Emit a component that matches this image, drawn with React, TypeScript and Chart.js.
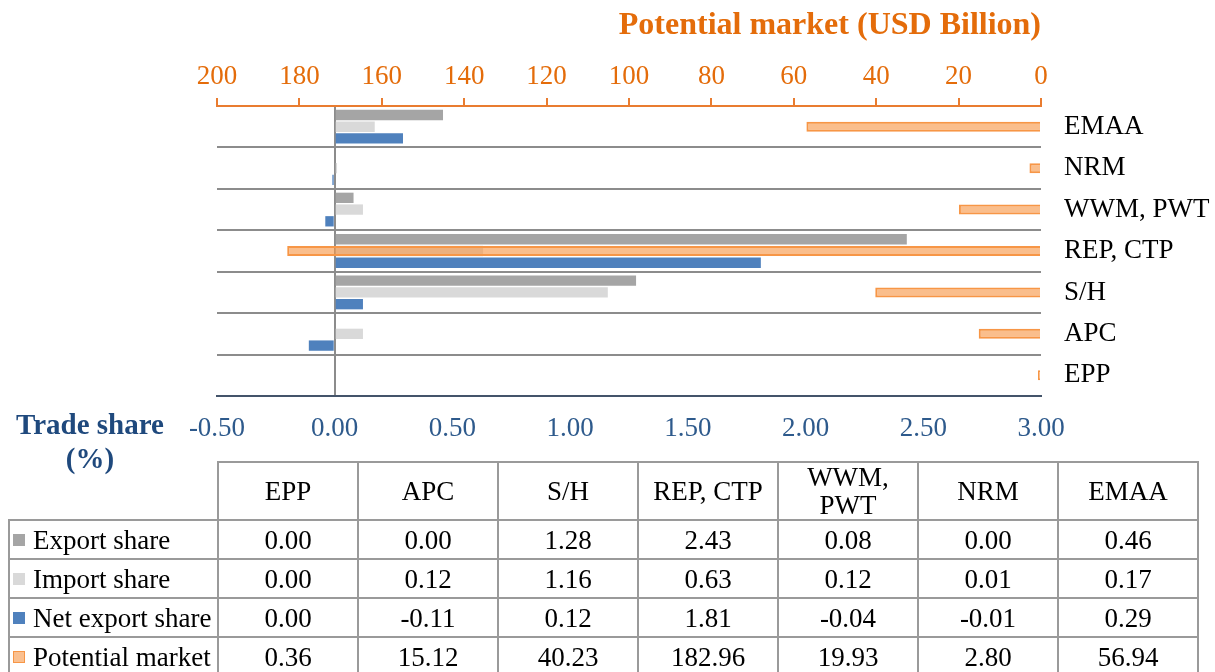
import React, { useEffect, useRef } from 'react';
import { Chart, registerables } from 'chart.js';

Chart.register(...registerables);

// ---- Data (table order: bottom to top in the chart) ----
const categories = ['EPP', 'APC', 'S/H', 'REP, CTP', 'WWM, PWT', 'NRM', 'EMAA'];
const tableHeaders = ['EPP', 'APC', 'S/H', 'REP, CTP', 'WWM,\nPWT', 'NRM', 'EMAA'];
const exportShare = [0.0, 0.0, 1.28, 2.43, 0.08, 0.0, 0.46];
const importShare = [0.0, 0.12, 1.16, 0.63, 0.12, 0.01, 0.17];
const netExportShare = [0.0, -0.11, 0.12, 1.81, -0.04, -0.01, 0.29];
const potentialMarket = [0.36, 15.12, 40.23, 182.96, 19.93, 2.8, 56.94];
const seriesNames = ['Export share', 'Import share', 'Net export share', 'Potential market'];
const topAxisTitle = 'Potential market (USD Billion)';

const FONT = '"Liberation Serif", "Times New Roman", serif';
const ORANGE_TEXT = '#E46C0A';
const ORANGE_LINE = '#E97C30';
const BLUE_TEXT = '#1F497D';

const swatches = [
  { bg: '#A5A5A5', border: '#A5A5A5' },
  { bg: '#D9D9D9', border: '#D9D9D9' },
  { bg: '#4F81BD', border: '#4F81BD' },
  { bg: '#FAC090', border: '#F79646' },
];

// Title for the reversed top axis, right-aligned to the chart area's right edge
const topTitlePlugin = {
  id: 'topTitle',
  afterDraw(chart: any) {
    const { ctx, chartArea } = chart;
    ctx.save();
    ctx.font = `bold 32px ${FONT}`;
    ctx.fillStyle = ORANGE_TEXT;
    ctx.textAlign = 'right';
    ctx.textBaseline = 'middle';
    ctx.fillText(topAxisTitle, chartArea.right, 26);
    ctx.restore();
  },
};

export default function App() {
  const ref = useRef<HTMLCanvasElement>(null);

  useEffect(() => {
    const chart = new Chart(ref.current as HTMLCanvasElement, {
      type: 'bar',
      data: {
        labels: categories,
        datasets: [
          {
            label: seriesNames[3],
            data: potentialMarket,
            xAxisID: 'x2',
            yAxisID: 'y',
            grouped: false,
            maxBarThickness: 10,
            minBarLength: 3,
            backgroundColor: 'rgba(247,150,70,0.62)',
            borderColor: '#F79646',
            borderWidth: 2,
            order: 0,
          } as any,
          {
            label: seriesNames[0],
            data: exportShare,
            xAxisID: 'x',
            yAxisID: 'y',
            backgroundColor: '#A5A5A5',
            order: 1,
          },
          {
            label: seriesNames[1],
            data: importShare,
            xAxisID: 'x',
            yAxisID: 'y',
            backgroundColor: '#D9D9D9',
            order: 1,
          },
          {
            label: seriesNames[2],
            data: netExportShare,
            xAxisID: 'x',
            yAxisID: 'y',
            backgroundColor: '#4F81BD',
            order: 1,
          },
        ],
      },
      options: {
        indexAxis: 'y',
        responsive: false,
        animation: false,
        layout: { padding: { left: 217, right: 0, top: 0, bottom: 0 } },
        plugins: {
          legend: { display: false },
          tooltip: { enabled: false },
        },
        datasets: {
          bar: { categoryPercentage: 0.85, barPercentage: 0.88 },
        },
        scales: {
          x: {
            type: 'linear',
            position: 'bottom',
            min: -0.5,
            max: 3,
            ticks: {
              stepSize: 0.5,
              color: '#2E5A8C',
              font: { family: FONT, size: 27 },
              padding: 17,
              callback: (v: any) => Number(v).toFixed(2),
            },
            grid: {
              drawTicks: false,
              lineWidth: 2,
              color: (ctx: any) =>
                ctx.tick && Math.abs(ctx.tick.value) < 1e-9 ? '#8C8C8C' : 'rgba(0,0,0,0)',
            },
            border: { display: true, color: '#44546A', width: 2 },
            afterFit: (s: any) => {
              s.height = 64;
            },
          },
          x2: {
            type: 'linear',
            axis: 'x',
            position: 'top',
            min: 0,
            max: 200,
            reverse: true,
            ticks: {
              stepSize: 20,
              color: ORANGE_TEXT,
              font: { family: FONT, size: 27 },
              padding: 5,
            },
            grid: {
              drawOnChartArea: false,
              drawTicks: true,
              tickLength: 8,
              color: ORANGE_LINE,
              lineWidth: 2,
            },
            border: { display: true, color: ORANGE_LINE, width: 2 },
            title: { display: false },
            afterFit: (s: any) => {
              s.height = 106;
            },
          },
          y: {
            type: 'category',
            position: 'right',
            reverse: true,
            grid: {
              color: '#8C8C8C',
              lineWidth: 2,
              drawTicks: false,
              offset: true,
            },
            border: { display: false },
            ticks: {
              color: '#000000',
              font: { family: FONT, size: 27 },
              padding: 23,
              crossAlign: 'near',
            },
            afterFit: (s: any) => {
              s.width = 174;
            },
          },
        },
      } as any,
      plugins: [topTitlePlugin],
    });
    return () => chart.destroy();
  }, []);

  const cellBorder = '2px solid #9A9A9A';
  const rows = [exportShare, importShare, netExportShare, potentialMarket];

  return (
    <div
      style={{
        position: 'absolute',
        left: 0,
        top: 0,
        width: 1215,
        height: 672,
        overflow: 'hidden',
        background: '#ffffff',
        fontFamily: FONT,
      }}
    >
      <canvas ref={ref} width={1215} height={460} style={{ position: 'absolute', left: 0, top: 0 }} />
      <div
        style={{
          position: 'absolute',
          left: 0,
          top: 407,
          width: 180,
          textAlign: 'center',
          color: BLUE_TEXT,
          fontWeight: 'bold',
          fontSize: 29,
          lineHeight: '34px',
        }}
      >
        Trade share
        <br />
        (%)
      </div>
      <table
        style={{
          position: 'absolute',
          left: 8,
          top: 461,
          borderCollapse: 'collapse',
          tableLayout: 'fixed',
          width: 1189,
          fontSize: 27,
          color: '#000',
        }}
      >
        <colgroup>
          <col style={{ width: 209 }} />
          {categories.map((c) => (
            <col key={c} style={{ width: 140 }} />
          ))}
        </colgroup>
        <tbody>
          <tr style={{ height: 58 }}>
            <td style={{ border: 'none', padding: 0 }} />
            {tableHeaders.map((h) => (
              <td
                key={h}
                style={{
                  border: cellBorder,
                  textAlign: 'center',
                  whiteSpace: 'pre-line',
                  lineHeight: '28px',
                  padding: 0,
                }}
              >
                {h}
              </td>
            ))}
          </tr>
          {rows.map((vals, ri) => (
            <tr key={ri} style={{ height: 39 }}>
              <td style={{ border: cellBorder, padding: '0 0 0 3px', whiteSpace: 'nowrap', lineHeight: '30px' }}>
                <span
                  style={{
                    display: 'inline-block',
                    width: ri === 3 ? 10 : 12,
                    height: ri === 3 ? 10 : 12,
                    background: swatches[ri].bg,
                    border: ri === 3 ? `1px solid ${swatches[ri].border}` : 'none',
                    marginRight: 8,
                    verticalAlign: 'middle',
                    position: 'relative',
                    top: -2,
                  }}
                />
                {seriesNames[ri]}
              </td>
              {vals.map((v, ci) => (
                <td
                  key={ci}
                  style={{ border: cellBorder, textAlign: 'center', padding: 0, lineHeight: '30px' }}
                >
                  {v.toFixed(2)}
                </td>
              ))}
            </tr>
          ))}
        </tbody>
      </table>
    </div>
  );
}
